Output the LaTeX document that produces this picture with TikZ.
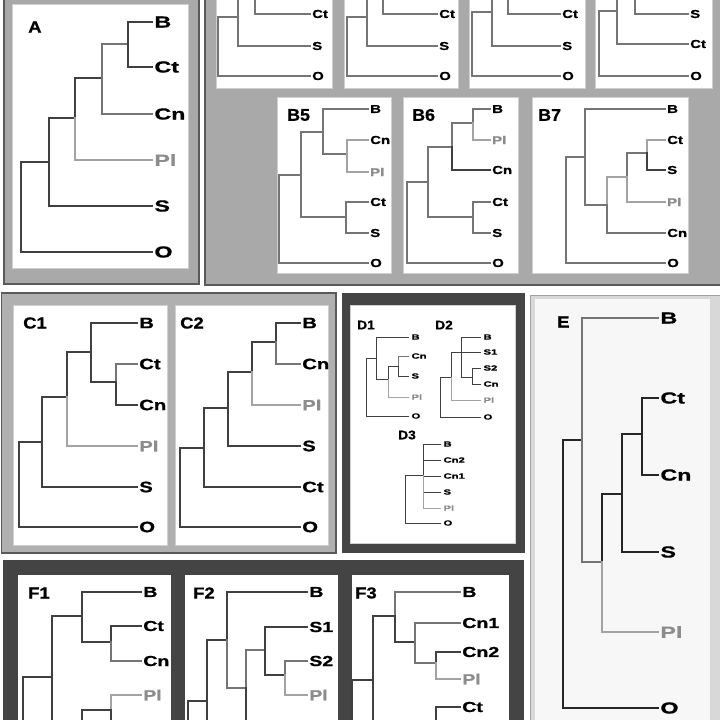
\documentclass[tikz,border=0pt]{standalone}
\usepackage{fontspec}
\setmainfont{Liberation Sans}[BoldFeatures={FakeBold=0.8}]
\definecolor{lc}{HTML}{404040}
\definecolor{lg}{HTML}{A3A3A3}
\definecolor{mg}{HTML}{757575}
\definecolor{lgt}{HTML}{8C8C8C}
\definecolor{frA}{HTML}{A9A9A9}
\definecolor{frC}{HTML}{B0B0B0}
\definecolor{frD}{HTML}{444444}
\definecolor{frE}{HTML}{D8D8D8}
\definecolor{edge}{HTML}{5A5A5A}
\definecolor{inb}{HTML}{CFCFCF}
\newcommand\tbr[3][]{\draw[br,#1] (#2) |- (#3);}
\tikzset{
  br/.style={draw=lc, line width=1.7pt, line cap=rect},
  thin/.style={line width=1.3pt},
  vthin/.style={line width=0.9pt},
  lt/.style={draw=lg},
  md/.style={draw=mg},
  labbase/.style={anchor=west, inner xsep=1.5pt, inner ysep=0pt, text=black},
  labA/.style={labbase, font=\bfseries\fontsize{16}{16}\selectfont, xscale=1.45},
  labC/.style={labbase, font=\bfseries\fontsize{15}{15}\selectfont, xscale=1.35},
  labF/.style={labbase, font=\bfseries\fontsize{14.5}{14.5}\selectfont, xscale=1.35},
  labS/.style={labbase, font=\bfseries\fontsize{11.5}{11.5}\selectfont, xscale=1.3},
  labD/.style={labbase, font=\bfseries\fontsize{7.5}{7.5}\selectfont, xscale=1.5},
  pl/.style={text=lgt},
  headL/.style={anchor=west, inner sep=0pt, font=\bfseries\fontsize{16}{16}\selectfont, xscale=1.15},
  headB/.style={anchor=west, inner sep=0pt, font=\bfseries\fontsize{17}{17}\selectfont, xscale=1.05},
  headD/.style={anchor=west, inner sep=0pt, font=\bfseries\fontsize{12.5}{12.5}\selectfont, xscale=1.1},
  wbox/.style={fill=white, draw=inb, line width=0.8pt},
}
\begin{document}
\begin{tikzpicture}[x=1pt,y=-1pt]
\useasboundingbox (0,0) rectangle (720,720);
\clip (0,0) rectangle (720,720);
\fill[white] (0,0) rectangle (720,720);

% ---------- frames ----------
\draw[fill=frA, draw=edge, line width=1.2pt] (4,-5) rectangle (199,284);
\draw[wbox] (12,4) rectangle (188,268);

\draw[fill=frA, draw=edge, line width=1.2pt] (205,-5) rectangle (725,285);
\draw[wbox] (216,-5) rectangle (332,88);
\draw[wbox] (344,-5) rectangle (458,88);
\draw[wbox] (469,-5) rectangle (585,88);
\draw[wbox] (595,-5) rectangle (712,88);
\draw[wbox] (277,97) rectangle (391,273);
\draw[wbox] (403,97) rectangle (518,273);
\draw[wbox] (532,97) rectangle (688,273);

\draw[fill=frC, draw=edge, line width=1.5pt] (1.5,293) rectangle (336,553);
\draw[wbox] (13,305) rectangle (167,545);
\draw[wbox] (175,305) rectangle (328,545);

\fill[frD] (342,293) rectangle (525,553);
\draw[wbox] (350,305) rectangle (515,543);

\draw[fill=frE, draw=lg, line width=1pt] (530,295) rectangle (725,725);
\fill[white!97!black] (535,299) rectangle (710,725);

\fill[frD] (3,560) rectangle (524,725);
\fill[white] (18,575) rectangle (171,725);
\fill[white] (185,575) rectangle (338,725);
\fill[white] (352,575) rectangle (509,725);

% ---------- A ----------
\node[headL] (A-h) at (28,27) {A};
\node[labA] (A-B) at (152,22) {B};
\node[labA] (A-Ct) at (152,67) {Ct};
\node[labA] (A-Cn) at (152,114) {Cn};
\node[labA,pl] (A-Pl) at (152,160) {Pl};
\node[labA] (A-S) at (152,206) {S};
\node[labA] (A-O) at (152,252) {O};
\coordinate (A0) at (21,162);
\coordinate (A1) at (49,162);
\coordinate (A2) at (75,118);
\coordinate (A3) at (102,78);
\coordinate (A4) at (128,44);
\tbr{A0}{A1} \tbr{A0}{A-O.west}
\tbr{A1}{A2} \tbr{A1}{A-S.west}
\tbr{A2}{A3} \tbr[lt]{A2}{A-Pl.west}
\tbr[md]{A3}{A4} \tbr[md]{A3}{A-Cn.west}
\tbr{A4}{A-B.west} \tbr{A4}{A-Ct.west}

% ---------- B1 ----------
\node[labS] (B1-Ct) at (310,14) {Ct};
\node[labS] (B1-S) at (310,46) {S};
\node[labS] (B1-O) at (310,76) {O};
\coordinate (B1-0) at (218,17);
\coordinate (B1-1) at (238,17);
\coordinate (B1-2) at (255,-12);
\coordinate (B1-x) at (310,-30);
\tbr[thin,md]{B1-0}{B1-1} \tbr[thin,md]{B1-0}{B1-O.west}
\tbr[thin,md]{B1-1}{B1-2} \tbr[thin,md]{B1-1}{B1-S.west}
\tbr[thin,md]{B1-2}{B1-x} \tbr[thin,md]{B1-2}{B1-Ct.west}

% ---------- B2 ----------
\node[labS] (B2-Ct) at (437,14) {Ct};
\node[labS] (B2-S) at (437,46) {S};
\node[labS] (B2-O) at (437,76) {O};
\coordinate (B2-0) at (347,17);
\coordinate (B2-1) at (367,17);
\coordinate (B2-2) at (383,-12);
\coordinate (B2-x) at (437,-30);
\tbr[thin,md]{B2-0}{B2-1} \tbr[thin,md]{B2-0}{B2-O.west}
\tbr[thin,md]{B2-1}{B2-2} \tbr[thin,md]{B2-1}{B2-S.west}
\tbr[thin,md]{B2-2}{B2-x} \tbr[thin,md]{B2-2}{B2-Ct.west}

% ---------- B3 ----------
\node[labS] (B3-Ct) at (560,14) {Ct};
\node[labS] (B3-S) at (560,46) {S};
\node[labS] (B3-O) at (560,76) {O};
\coordinate (B3-0) at (472,12);
\coordinate (B3-1) at (492,12);
\coordinate (B3-2) at (508,-12);
\coordinate (B3-x) at (560,-30);
\tbr[thin,md]{B3-0}{B3-1} \tbr[thin,md]{B3-0}{B3-O.west}
\tbr[thin,md]{B3-1}{B3-2} \tbr[thin,md]{B3-1}{B3-S.west}
\tbr[thin,md]{B3-2}{B3-x} \tbr[thin,md]{B3-2}{B3-Ct.west}

% ---------- B4 ----------
\node[labS] (B4-S) at (688,14) {S};
\node[labS] (B4-Ct) at (688,44) {Ct};
\node[labS] (B4-O) at (688,76) {O};
\coordinate (B4-0) at (599,11);
\coordinate (B4-1) at (617,11);
\coordinate (B4-2) at (635,-12);
\coordinate (B4-x) at (688,-30);
\tbr[thin,md]{B4-0}{B4-1} \tbr[thin,md]{B4-0}{B4-O.west}
\tbr[thin,md]{B4-1}{B4-2} \tbr[thin,md]{B4-1}{B4-Ct.west}
\tbr[thin,md]{B4-2}{B4-x} \tbr[thin,md]{B4-2}{B4-S.west}

% ---------- B5 ----------
\node[headB] (B5-h) at (287,115) {B5};
\node[labS] (B5-B) at (368,109) {B};
\node[labS] (B5-Cn) at (368,140) {Cn};
\node[labS,pl] (B5-Pl) at (368,172) {Pl};
\node[labS] (B5-Ct) at (368,202) {Ct};
\node[labS] (B5-S) at (368,233) {S};
\node[labS] (B5-O) at (368,263) {O};
\coordinate (B5-0) at (279,175);
\coordinate (B5-1) at (301,175);
\coordinate (B5-2) at (323,132);
\coordinate (B5-3) at (346,217);
\coordinate (B5-4) at (347,154);
\tbr[thin,md]{B5-0}{B5-1} \tbr[thin,md]{B5-0}{B5-O.west}
\tbr[thin,md]{B5-1}{B5-2} \tbr[thin,md]{B5-1}{B5-3}
\tbr[thin,md]{B5-2}{B5-B.west} \tbr[thin,md]{B5-2}{B5-4}
\tbr[thin,lt]{B5-4}{B5-Cn.west} \tbr[thin,lt]{B5-4}{B5-Pl.west}
\tbr[thin,md]{B5-3}{B5-Ct.west} \tbr[thin,md]{B5-3}{B5-S.west}

% ---------- B6 ----------
\node[headB] (B6-h) at (412,115) {B6};
\node[labS] (B6-B) at (490,109) {B};
\node[labS,pl] (B6-Pl) at (490,140) {Pl};
\node[labS] (B6-Cn) at (490,170) {Cn};
\node[labS] (B6-Ct) at (490,202) {Ct};
\node[labS] (B6-S) at (490,233) {S};
\node[labS] (B6-O) at (490,263) {O};
\coordinate (B6-0) at (407,182);
\coordinate (B6-1) at (428,182);
\coordinate (B6-2) at (452,147);
\coordinate (B6-3) at (473,217);
\coordinate (B6-4) at (473,123);
\tbr[thin,md]{B6-0}{B6-1} \tbr[thin,md]{B6-0}{B6-O.west}
\tbr[thin,md]{B6-1}{B6-2} \tbr[thin,md]{B6-1}{B6-3}
\tbr[thin,md]{B6-2}{B6-4} \tbr[thin]{B6-2}{B6-Cn.west}
\tbr[thin,md]{B6-4}{B6-B.west} \tbr[thin,lt]{B6-4}{B6-Pl.west}
\tbr[thin,md]{B6-3}{B6-Ct.west} \tbr[thin,md]{B6-3}{B6-S.west}

% ---------- B7 ----------
\node[headB] (B7-h) at (538,115) {B7};
\node[labS] (B7-B) at (665,109) {B};
\node[labS] (B7-Ct) at (665,140) {Ct};
\node[labS] (B7-S) at (665,170) {S};
\node[labS,pl] (B7-Pl) at (665,202) {Pl};
\node[labS] (B7-Cn) at (665,233) {Cn};
\node[labS] (B7-O) at (665,263) {O};
\coordinate (B7-0) at (566,157);
\coordinate (B7-1) at (585,157);
\coordinate (B7-2) at (607,205);
\coordinate (B7-3) at (627,177);
\coordinate (B7-4) at (647,153);
\tbr[thin,md]{B7-0}{B7-1} \tbr[thin,md]{B7-0}{B7-O.west}
\tbr[thin,md]{B7-1}{B7-B.west} \tbr[thin,md]{B7-1}{B7-2}
\tbr[thin,lt]{B7-2}{B7-3} \tbr[thin,md]{B7-2}{B7-Cn.west}
\tbr[thin,md]{B7-3}{B7-4} \tbr[thin,lt]{B7-3}{B7-Pl.west}
\tbr[thin,lt]{B7-4}{B7-Ct.west} \tbr[thin]{B7-4}{B7-S.west}

% ---------- C1 ----------
\node[headL] (C1-h) at (23,323) {C1};
\node[labC] (C1-B) at (137,323) {B};
\node[labC] (C1-Ct) at (137,364) {Ct};
\node[labC] (C1-Cn) at (137,405) {Cn};
\node[labC,pl] (C1-Pl) at (137,446) {Pl};
\node[labC] (C1-S) at (137,487) {S};
\node[labC] (C1-O) at (137,527) {O};
\coordinate (C1-0) at (19,442);
\coordinate (C1-1) at (42,442);
\coordinate (C1-2) at (67,397);
\coordinate (C1-3) at (91,352);
\coordinate (C1-4) at (116,382);
\tbr{C1-0}{C1-1} \tbr{C1-0}{C1-O.west}
\tbr{C1-1}{C1-2} \tbr{C1-1}{C1-S.west}
\tbr{C1-2}{C1-3} \tbr[lt]{C1-2}{C1-Pl.west}
\tbr{C1-3}{C1-B.west} \tbr{C1-3}{C1-4}
\tbr[md]{C1-4}{C1-Ct.west} \tbr{C1-4}{C1-Cn.west}

% ---------- C2 ----------
\node[headL] (C2-h) at (180,323) {C2};
\node[labC] (C2-B) at (300,323) {B};
\node[labC] (C2-Cn) at (300,364) {Cn};
\node[labC,pl] (C2-Pl) at (300,405) {Pl};
\node[labC] (C2-S) at (300,446) {S};
\node[labC] (C2-Ct) at (300,487) {Ct};
\node[labC] (C2-O) at (300,527) {O};
\coordinate (C2-0) at (180,448);
\coordinate (C2-1) at (204,448);
\coordinate (C2-2) at (228,408);
\coordinate (C2-3) at (252,372);
\coordinate (C2-4) at (276,342);
\tbr{C2-0}{C2-1} \tbr{C2-0}{C2-O.west}
\tbr{C2-1}{C2-2} \tbr{C2-1}{C2-Ct.west}
\tbr{C2-2}{C2-3} \tbr{C2-2}{C2-S.west}
\tbr{C2-3}{C2-4} \tbr[lt]{C2-3}{C2-Pl.west}
\tbr{C2-4}{C2-B.west} \tbr[md]{C2-4}{C2-Cn.west}

% ---------- D1 ----------
\node[headD] (D1-h) at (357,325) {D1};
\node[labD] (D1-B) at (409,337) {B};
\node[labD] (D1-Cn) at (409,356) {Cn};
\node[labD] (D1-S) at (409,376) {S};
\node[labD,pl] (D1-Pl) at (409,397) {Pl};
\node[labD] (D1-O) at (409,416) {O};
\coordinate (D1-0) at (366,358);
\coordinate (D1-1) at (376,358);
\coordinate (D1-2) at (388,379);
\coordinate (D1-3) at (398,366);
\tbr[vthin]{D1-0}{D1-1} \tbr[vthin]{D1-0}{D1-O.west}
\tbr[vthin]{D1-1}{D1-B.west} \tbr[vthin]{D1-1}{D1-2}
\tbr[vthin]{D1-2}{D1-3} \tbr[vthin,lt]{D1-2}{D1-Pl.west}
\tbr[vthin,md]{D1-3}{D1-Cn.west} \tbr[vthin]{D1-3}{D1-S.west}

% ---------- D2 ----------
\node[headD] (D2-h) at (435,325) {D2};
\node[labD] (D2-B) at (481,337) {B};
\node[labD] (D2-S1) at (481,352) {S1};
\node[labD] (D2-S2) at (481,368) {S2};
\node[labD] (D2-Cn) at (481,384) {Cn};
\node[labD,pl] (D2-Pl) at (481,400) {Pl};
\node[labD] (D2-O) at (481,417) {O};
\coordinate (D2-0) at (440,377);
\coordinate (D2-1) at (451,377);
\coordinate (D2-2) at (461,352);
\coordinate (D2-3) at (472,377);
\tbr[vthin]{D2-0}{D2-1} \tbr[vthin]{D2-0}{D2-O.west}
\tbr[vthin]{D2-1}{D2-2} \tbr[vthin,lt]{D2-1}{D2-Pl.west}
\tbr[vthin]{D2-2}{D2-B.west} \tbr[vthin]{D2-2}{D2-S1.west} \tbr[vthin]{D2-2}{D2-3}
\tbr[vthin]{D2-3}{D2-S2.west} \tbr[vthin]{D2-3}{D2-Cn.west}

% ---------- D3 ----------
\node[headD] (D3-h) at (398,435) {D3};
\node[labD] (D3-B) at (441,444) {B};
\node[labD] (D3-Cn2) at (441,460) {Cn2};
\node[labD] (D3-Cn1) at (441,476) {Cn1};
\node[labD] (D3-S) at (441,492) {S};
\node[labD,pl] (D3-Pl) at (441,508) {Pl};
\node[labD] (D3-O) at (441,523) {O};
\coordinate (D3-0) at (405,475);
\coordinate (D3-1) at (423,475);
\tbr[vthin]{D3-0}{D3-1} \tbr[vthin]{D3-0}{D3-O.west}
\tbr[vthin]{D3-1}{D3-B.west} \tbr[vthin]{D3-1}{D3-Cn2.west}
\tbr[vthin]{D3-1}{D3-Cn1.west} \tbr[vthin]{D3-1}{D3-S.west}
\tbr[vthin,lt]{D3-1}{D3-Pl.west}

% ---------- E ----------
\node[headL] (E-h) at (557,322) {E};
\node[labA] (E-B) at (658,318) {B};
\node[labA] (E-Ct) at (658,398) {Ct};
\node[labA] (E-Cn) at (658,475) {Cn};
\node[labA] (E-S) at (658,552) {S};
\node[labA,pl] (E-Pl) at (658,632) {Pl};
\node[labA] (E-O) at (658,708) {O};
\coordinate (E-0) at (563,440);
\coordinate (E-1) at (582,440);
\coordinate (E-2) at (602,562);
\coordinate (E-3) at (622,494);
\coordinate (E-4) at (642,434);
\tbr[draw=black!85]{E-0}{E-1} \tbr[draw=black!85]{E-0}{E-O.west}
\tbr[md]{E-1}{E-B.west} \tbr[md]{E-1}{E-2}
\tbr[draw=black!85]{E-2}{E-3} \tbr[lt]{E-2}{E-Pl.west}
\tbr[draw=black!85]{E-3}{E-4} \tbr[draw=black!85]{E-3}{E-S.west}
\tbr[draw=black!85]{E-4}{E-Ct.west} \tbr[draw=black!85]{E-4}{E-Cn.west}

% ---------- F1 ----------
\node[headL] (F1-h) at (28,593) {F1};
\node[labF] (F1-B) at (141,592) {B};
\node[labF] (F1-Ct) at (141,626) {Ct};
\node[labF] (F1-Cn) at (141,661) {Cn};
\node[labF,pl] (F1-Pl) at (141,695) {Pl};
\coordinate (F1-0) at (23,677);
\coordinate (F1-1) at (52,677);
\coordinate (F1-2) at (82,616);
\coordinate (F1-3) at (111,642);
\coordinate (F1-5) at (82,740);
\coordinate (F1-6) at (111,710);
\coordinate (F1-x1) at (141,790);
\coordinate (F1-x2) at (141,770);
\coordinate (F1-x3) at (141,728);
\tbr{F1-0}{F1-1} \tbr{F1-0}{F1-x1}
\tbr{F1-1}{F1-2} \tbr{F1-1}{F1-5}
\tbr{F1-2}{F1-B.west} \tbr{F1-2}{F1-3}
\tbr{F1-3}{F1-Ct.west} \tbr[md]{F1-3}{F1-Cn.west}
\tbr{F1-5}{F1-6} \tbr{F1-5}{F1-x2}
\tbr[lt]{F1-6}{F1-Pl.west} \tbr{F1-6}{F1-x3}

% ---------- F2 ----------
\node[headL] (F2-h) at (193,593) {F2};
\node[labF] (F2-B) at (307,592) {B};
\node[labF] (F2-S1) at (307,627) {S1};
\node[labF] (F2-S2) at (307,661) {S2};
\node[labF,pl] (F2-Pl) at (307,695) {Pl};
\coordinate (F2-0) at (188,701);
\coordinate (F2-1) at (207,701);
\coordinate (F2-2) at (227,640);
\coordinate (F2-3) at (246,688);
\coordinate (F2-4) at (265,650);
\coordinate (F2-5) at (285,675);
\coordinate (F2-x1) at (307,790);
\coordinate (F2-x2) at (307,770);
\coordinate (F2-x3) at (307,750);
\tbr{F2-0}{F2-1} \tbr{F2-0}{F2-x1}
\tbr{F2-1}{F2-2} \tbr{F2-1}{F2-x2}
\tbr{F2-2}{F2-B.west} \tbr[md]{F2-2}{F2-3}
\tbr[md]{F2-3}{F2-4} \tbr{F2-3}{F2-x3}
\tbr{F2-4}{F2-S1.west} \tbr{F2-4}{F2-5}
\tbr[md]{F2-5}{F2-S2.west} \tbr[lt]{F2-5}{F2-Pl.west}

% ---------- F3 ----------
\node[headL] (F3-h) at (355,593) {F3};
\node[labF] (F3-B) at (460,592) {B};
\node[labF] (F3-Cn1) at (460,623) {Cn1};
\node[labF] (F3-Cn2) at (460,652) {Cn2};
\node[labF,pl] (F3-Pl) at (460,679) {Pl};
\node[labF] (F3-Ct) at (460,707) {Ct};
\coordinate (F3-0) at (352,680);
\coordinate (F3-1) at (373,680);
\coordinate (F3-2) at (395,616);
\coordinate (F3-3) at (415,642);
\coordinate (F3-4) at (436,663);
\coordinate (F3-5) at (436,730);
\coordinate (F3-x1) at (460,790);
\coordinate (F3-x2) at (460,770);
\coordinate (F3-x3) at (460,745);
\tbr{F3-0}{F3-1} \tbr{F3-0}{F3-x1}
\tbr{F3-1}{F3-2} \tbr{F3-1}{F3-x2}
\tbr[md]{F3-2}{F3-B.west} \tbr{F3-2}{F3-3}
\tbr[md]{F3-3}{F3-Cn1.west} \tbr[md]{F3-3}{F3-4}
\tbr{F3-4}{F3-Cn2.west} \tbr[lt]{F3-4}{F3-Pl.west}
\tbr{F3-5}{F3-Ct.west} \tbr{F3-5}{F3-x3}
\end{tikzpicture}
\end{document}
